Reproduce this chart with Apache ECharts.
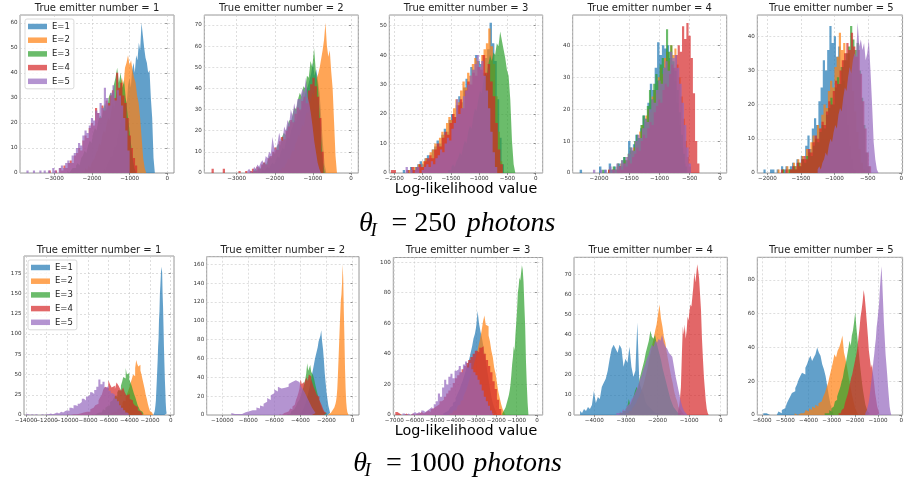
<!DOCTYPE html>
<html>
<head>
<meta charset="utf-8">
<script src="https://cdn.jsdelivr.net/npm/echarts@6/dist/echarts.min.js"></script>
<style>
  html, body { margin: 0; padding: 0; background: #fff; }
  #chart { width: 906px; height: 490px; }
</style>
</head>
<body>
<div id="chart"></div>
<script>
const emitterLabels = ['E=1', 'E=2', 'E=3', 'E=4', 'E=5'];
const emitterColors = ['#1f77b4', '#ff7f0e', '#2ca02c', '#d62728', '#9467bd'];
const panelTitles = [
  'True emitter number = 1', 'True emitter number = 2', 'True emitter number = 3',
  'True emitter number = 4', 'True emitter number = 5',
  'True emitter number = 1', 'True emitter number = 2', 'True emitter number = 3',
  'True emitter number = 4', 'True emitter number = 5'
];

// histogram bin ranges [first edge, last edge] per fitted emitter number, and counts per bin
// theta_I = 250 photons
const range250_1 = [[-1750, -330], [-2250, -560], [-2650, -830], [-3150, -800], [-3740, -1000]];
const counts250_1 = [
  [1,0,2,1,3,4,5,7,6,9,11,10,14,16,19,22,21,27,30,28,35,38,34,41,44,40,47,45,52,49,60,55,50,46,44,40,41,30,22,6],
  [1,0,2,1,3,2,4,5,6,8,9,12,11,15,17,16,20,22,21,25,28,26,31,33,30,36,38,35,42,44,47,43,45,41,38,36,31,28,22,14,6,2],
  [1,0,1,2,2,3,4,3,6,7,9,8,11,13,12,16,18,17,21,23,22,26,28,25,30,32,31,35,38,42,36,40,34,37,30,24,18,12,6,2],
  [1,0,0,1,0,2,1,3,2,4,5,4,7,8,10,9,13,15,14,18,20,19,26,24,22,27,25,29,28,31,33,30,40,34,36,31,28,22,15,10,6,3],
  [1,0,0,1,0,0,1,0,1,0,1,0,2,1,0,2,3,2,4,5,4,7,8,10,12,11,15,17,16,19,22,21,25,24,28,26,34,30,27,32,35,29,33,31,27,22,17,9]
];
const range250_2 = [[-2500, -650], [-1950, -370], [-2650, -690], [-3660, -720], [-2720, -790]];
const counts250_2 = [
  [1,0,1,0,2,1,2,3,2,4,5,4,6,8,7,10,12,11,15,17,16,20,22,25,24,28,30,29,34,36,39,41,44,47,52,46,49,44,38,26,14,4],
  [1,0,2,1,3,2,4,5,7,6,9,11,10,14,15,18,17,21,23,22,27,29,28,33,35,38,36,42,45,47,50,54,58,63,71,60,55,58,48,40,24,8],
  [1,0,1,2,1,3,2,4,5,4,6,8,7,10,9,12,14,13,17,19,18,22,25,24,28,31,30,35,38,36,41,40,46,45,53,50,59,48,42,30,16,5],
  [2,0,0,0,0,2,0,0,0,0,0,0,1,0,0,1,0,1,2,1,3,2,4,5,4,7,8,10,12,11,15,17,16,20,22,25,24,28,31,30,34,36,33,39,42,45,41,36,26,10],
  [1,2,1,0,3,2,4,3,5,6,4,8,7,10,9,17,12,11,14,19,16,15,22,20,25,23,30,27,33,29,35,35,37,40,38,45,36,33,28,22,15,10,5,2]
];
const range250_3 = [[-2350, -560], [-2250, -590], [-1550, -360], [-2560, -580], [-2300, -680]];
const counts250_3 = [
  [1,0,1,2,1,2,3,4,3,5,6,5,8,9,11,10,13,15,14,18,20,19,23,26,24,29,32,30,36,35,40,38,37,34,39,42,51,44,38,25,12,3],
  [1,0,2,1,3,2,4,5,4,7,8,10,9,12,14,13,17,19,18,22,25,24,28,31,29,34,33,37,39,38,36,40,42,44,49,43,37,26,14,4],
  [1,1,2,3,2,4,5,7,6,9,11,10,14,16,15,19,22,21,25,28,27,31,34,33,37,40,38,41,40,44,43,48,45,42,39,35,33,25,11,3],
  [1,1,0,0,0,0,1,0,2,1,2,3,2,4,5,6,5,8,10,9,12,14,13,17,20,19,23,25,22,28,31,30,34,33,36,35,40,34,37,31,26,17,8,3],
  [2,0,1,0,1,2,0,1,2,3,2,4,3,5,6,8,7,10,12,11,15,17,25,20,22,26,28,30,33,35,37,40,36,38,33,28,22,14,7,2]
];
const range250_4 = [[-2320, -560], [-1850, -480], [-1950, -540], [-1850, -340], [-2100, -480]];
const counts250_4 = [
  [1,0,0,0,0,0,0,0,2,0,1,0,3,1,2,1,3,2,5,4,10,7,9,12,11,14,18,16,22,28,26,33,41,37,40,39,40,36,33,29,22,15,8,3],
  [1,0,1,1,2,1,3,2,4,5,4,7,8,10,9,13,15,14,18,20,19,24,26,25,30,33,31,36,38,35,40,37,39,34,30,24,17,10,5,2],
  [1,0,0,1,1,2,1,3,2,4,5,4,6,8,7,10,12,11,15,18,17,21,26,23,28,31,29,34,36,33,45,38,40,35,32,26,19,12,6,2],
  [1,0,1,0,1,2,1,3,2,4,3,5,6,8,7,10,12,11,14,16,15,19,21,23,22,26,28,27,31,34,33,37,40,38,46,42,47,43,36,25,10,3],
  [1,0,0,1,0,1,0,2,1,1,3,2,4,3,5,6,8,7,10,12,11,14,17,16,20,23,22,26,29,28,33,35,32,38,36,37,33,28,22,15,8,3]
];
const range250_5 = [[-2060, -680], [-1850, -540], [-1780, -470], [-1800, -450], [-1250, -340]];
const counts250_5 = [
  [1,0,0,1,1,0,1,0,2,1,2,1,2,3,2,4,3,5,4,8,11,7,13,16,14,21,25,33,30,36,43,38,40,34,37,31,27,20,14,8,4,1],
  [1,0,1,0,2,1,1,3,2,4,3,5,4,7,6,9,11,10,14,13,17,20,19,24,27,25,31,34,41,36,38,33,35,29,24,18,12,7,3,1],
  [1,0,0,1,1,2,1,3,2,4,3,5,6,5,8,10,9,12,14,13,17,19,22,20,25,28,26,31,33,35,37,43,39,36,38,30,22,14,6,2],
  [1,0,1,0,1,2,1,3,2,4,5,4,7,6,9,11,10,13,15,14,18,21,20,24,27,26,30,33,35,38,36,41,37,34,36,29,21,13,6,2],
  [1,2,1,3,4,6,5,8,10,9,12,14,13,17,19,18,22,25,24,28,31,29,33,35,34,44,37,39,36,38,33,35,39,30,20,9,4,1]
];

// theta_I = 1000 photons
const range1000_1 = [[-1650, -350], [-6200, -1700], [-7600, -2500], [-10000, -2700], [-14000, -4000]];
const counts1000_1 = [
  [1,2,4,7,12,18,30,42,55,68,85,95,118,128,150,160,172,183,181,176,150,134,110,85,65,45,31,15,6,2],
  [1,0,1,2,1,3,2,4,5,4,7,8,10,12,11,15,18,17,22,25,28,32,36,41,45,50,48,58,68,63,60,62,55,50,44,38,32,25,20,14,9,5,3,1],
  [1,0,1,2,1,3,4,3,5,7,6,9,11,13,12,16,18,17,21,24,23,28,31,30,36,41,47,45,58,50,52,44,40,36,31,26,22,17,12,9,6,4,2,1],
  [1,0,0,1,0,1,1,2,1,3,2,4,5,4,7,9,8,12,14,18,22,25,32,35,33,43,38,34,36,32,40,37,33,30,34,28,24,26,20,18,15,12,10,6,4,2],
  [1,0,1,0,1,0,0,1,0,1,1,2,1,2,3,2,4,3,5,6,5,9,8,12,11,14,16,20,18,23,25,28,26,31,35,44,38,41,34,36,30,27,25,20,17,12,9,6,3,1]
];
const range1000_2 = [[-4100, -1650], [-1850, -300], [-5000, -1950], [-5600, -2000], [-9300, -2700]];
const counts1000_2 = [
  [1,2,3,5,4,7,9,12,14,18,22,26,30,35,40,45,50,55,60,64,68,72,78,80,84,90,78,70,58,44,34,24,17,10,6,2],
  [1,1,2,2,3,3,4,5,6,7,8,10,12,15,20,28,42,58,75,92,108,122,128,140,160,145,110,82,50,28,14,7,3,1],
  [1,2,1,3,4,3,6,8,7,10,13,12,16,19,22,26,29,34,38,44,55,47,50,53,46,48,42,38,33,28,24,20,16,12,9,6,4,3,2,1],
  [1,0,1,2,1,3,2,4,5,7,6,9,11,13,16,19,23,28,38,33,35,32,37,40,36,43,41,38,34,30,27,24,21,19,16,13,10,7,4,2],
  [2,1,0,1,2,1,2,3,2,4,3,5,6,5,8,7,10,9,12,14,18,16,21,23,27,25,30,28,26,29,31,30,33,35,34,37,38,35,33,30,27,24,20,16,12,8,5,2]
];
const range1000_3 = [[-4600, -1900], [-4300, -1550], [-1700, -420], [-6950, -1750], [-6600, -2100]];
const counts1000_3 = [
  [1,2,2,3,4,5,6,8,9,11,13,15,17,20,22,25,28,31,34,37,41,45,50,53,58,68,60,55,51,46,40,35,29,23,17,12,8,5,3,1],
  [1,1,2,3,3,4,6,7,9,10,12,14,16,19,22,25,28,31,35,38,42,46,50,55,61,65,59,58,52,48,42,38,31,27,21,15,11,7,4,2],
  [1,2,3,4,5,7,9,11,13,16,20,26,33,38,45,42,52,60,68,80,84,90,88,93,98,95,87,72,58,35,20,8],
  [2,1,0,0,1,0,0,1,0,1,1,2,1,2,3,2,4,5,6,7,9,10,12,14,16,18,21,24,26,28,30,32,34,36,38,40,42,41,44,45,40,36,32,28,22,17,10,4],
  [1,0,1,0,1,2,1,2,1,3,2,3,4,5,4,7,9,14,12,18,23,20,25,27,24,29,30,32,28,33,35,31,34,30,28,26,23,20,16,12,9,6,3,1]
];
const range1000_4 = [[-4450, -1950], [-3000, -1150], [-3200, -1250], [-1350, -380], [-3300, -1050]];
const counts1000_4 = [
  [2,1,3,2,4,3,5,12,6,9,8,14,16,18,22,28,33,35,33,31,35,33,24,28,26,34,24,19,22,46,16,13,11,7,5,4,3,2,1,1],
  [1,1,2,2,3,4,5,6,8,9,11,13,15,18,21,24,28,31,35,38,42,45,50,55,48,44,39,36,31,27,23,19,16,12,9,7,4,3,2,1],
  [1,1,2,2,3,4,8,5,7,9,12,14,13,18,21,24,27,31,34,37,42,39,38,40,36,33,30,27,23,20,17,14,11,8,6,4,3,2,1,1],
  [2,4,8,14,30,44,40,45,38,42,49,47,52,55,54,59,64,71,66,70,75,72,68,60,52,38,28,19,13,7,3,1],
  [1,1,2,1,3,2,4,5,6,8,9,11,13,15,18,20,23,25,28,30,33,35,34,37,36,38,37,40,36,34,33,31,30,29,24,19,15,11,7,4,2,1]
];
const range1000_5 = [[-5950, -2900], [-4600, -1850], [-3300, -1350], [-2700, -900], [-1550, -430]];
const counts1000_5 = [
  [1,1,0,0,1,0,1,0,1,2,1,3,4,5,7,9,11,13,14,16,18,21,23,25,24,28,30,33,35,32,34,36,40,37,35,30,27,23,17,11,6,2],
  [1,0,1,1,2,1,2,3,2,4,3,5,4,6,5,7,8,9,11,13,16,19,23,27,31,36,34,38,40,43,47,37,33,28,22,17,12,8,4,2],
  [1,1,2,1,3,2,4,5,6,8,9,11,13,15,17,20,22,26,29,32,36,40,44,41,47,50,55,61,52,45,38,31,25,19,14,10,6,4,2,1],
  [1,1,2,3,4,5,7,9,11,13,16,19,22,24,27,30,33,36,40,46,51,58,62,67,74,70,63,55,47,38,33,28,30,24,19,13,9,5,3,1],
  [1,2,3,5,7,10,14,18,22,27,32,36,41,45,52,56,61,66,75,82,88,78,66,54,45,36,30,24,17,11,5,2]
];

const panelRanges = [range250_1, range250_2, range250_3, range250_4, range250_5,
  range1000_1, range1000_2, range1000_3, range1000_4, range1000_5];
const panelCounts = [counts250_1, counts250_2, counts250_3, counts250_4, counts250_5,
  counts1000_1, counts1000_2, counts1000_3, counts1000_4, counts1000_5];

// axes boxes in pixels and axis limits
const panelLayout = [
  { left: 20, top: 15, width: 154, height: 158, xMin: -3911, xMax: 178, yMax: 63.1, xStep: 1000, yStep: 10 },
  { left: 204.3, top: 15, width: 154, height: 158, xMin: -3850, xMax: 190, yMax: 74.7, xStep: 1000, yStep: 10 },
  { left: 389.3, top: 15, width: 153.4, height: 158, xMin: -2588, xMax: 124, yMax: 53.6, xStep: 500, yStep: 10 },
  { left: 572.7, top: 15, width: 154, height: 158, xMin: -2435, xMax: 111, yMax: 49.5, xStep: 500, yStep: 10 },
  { left: 757.3, top: 15, width: 148, height: 158, xMin: -2152, xMax: 20, yMax: 46.2, xStep: 500, yStep: 10 },
  { left: 24, top: 256, width: 150, height: 159, xMin: -14194, xMax: 320, yMax: 196.4, xStep: 2000, yStep: 25 },
  { left: 206.7, top: 256.7, width: 152.3, height: 158.3, xMin: -11191, xMax: 500, yMax: 168, xStep: 2000, yStep: 20 },
  { left: 393.3, top: 257.5, width: 149.4, height: 157.5, xMin: -7049, xMax: 280, yMax: 103, xStep: 1000, yStep: 20 },
  { left: 574, top: 257.3, width: 153.3, height: 157.7, xMin: -4642, xMax: 209, yMax: 78.5, xStep: 1000, yStep: 10 },
  { left: 757.3, top: 257.3, width: 148, height: 157.7, xMin: -6208, xMax: 60, yMax: 93.3, xStep: 1000, yStep: 20 }
];

const tickFont = { fontSize: 5.6, color: '#333', fontFamily: 'DejaVu Sans' };
const minusFmt = v => (v < 0 ? '\u2212' + (-v) : String(v));

// step outline of a histogram: bin left edges with their counts, closed by the last right edge
function stepPoints(range, counts) {
  const w = (range[1] - range[0]) / counts.length;
  const pts = counts.map((c, i) => [range[0] + i * w, c]);
  pts.push([range[1], counts[counts.length - 1]]);
  return pts;
}

const grids = [], xAxes = [], yAxes = [], titles = [], series = [];
panelLayout.forEach((p, k) => {
  grids.push({ left: p.left, top: p.top, width: p.width, height: p.height,
    show: true, borderColor: '#7f7f7f', borderWidth: 0.8, containLabel: false });
  xAxes.push({
    type: 'value', gridIndex: k, min: p.xMin, max: p.xMax,
    minInterval: p.xStep, maxInterval: p.xStep, splitNumber: 6,
    axisLine: { show: false },
    axisTick: { show: true, length: 2, lineStyle: { color: '#555', width: 0.6 } },
    axisLabel: Object.assign({ margin: 2.5, formatter: minusFmt, showMinLabel: false, showMaxLabel: false }, tickFont),
    splitLine: { show: true, lineStyle: { color: '#c8c8c8', type: [2, 2], width: 0.6 } }
  });
  yAxes.push({
    type: 'value', gridIndex: k, min: 0, max: p.yMax,
    minInterval: p.yStep, maxInterval: p.yStep, splitNumber: 6,
    axisLine: { show: false },
    axisTick: { show: true, length: 2, lineStyle: { color: '#555', width: 0.6 } },
    axisLabel: Object.assign({ margin: 2.5, showMaxLabel: false }, tickFont),
    splitLine: { show: true, lineStyle: { color: '#c8c8c8', type: [2, 2], width: 0.6 } }
  });
  titles.push({
    text: panelTitles[k], left: p.left + p.width / 2, top: k < 5 ? 3.5 : 245.5,
    textAlign: 'center', padding: 0,
    textStyle: { fontSize: 10, fontWeight: 'normal', fontFamily: 'DejaVu Sans', color: '#222' }
  });
  emitterLabels.forEach((name, e) => {
    series.push({
      type: 'line', name: name, xAxisIndex: k, yAxisIndex: k,
      step: 'end', symbol: 'none', showSymbol: false, silent: true,
      lineStyle: { width: 0 },
      areaStyle: { color: emitterColors[e], opacity: 0.7 },
      itemStyle: { color: emitterColors[e], opacity: 0.7 },
      data: stepPoints(panelRanges[k][e], panelCounts[k][e])
    });
  });
});

const legendStyle = {
  orient: 'vertical', data: emitterLabels, icon: 'rect',
  itemWidth: 19, itemHeight: 5.5, itemGap: 4.7, itemTextGap: 6,
  padding: [3, 4, 3, 3],
  backgroundColor: 'rgba(255,255,255,0.8)', borderColor: '#d0d0d0', borderWidth: 0.8, borderRadius: 2,
  itemStyle: { opacity: 0.7 },
  textStyle: { fontSize: 8.5, color: '#222', fontFamily: 'DejaVu Sans' }
};

function label(text, x, y, font, align) {
  return { type: 'text', x: x, y: y, silent: true,
    style: { text: text, font: font, fill: '#000', align: align, textAlign: align,
      verticalAlign: 'middle', textVerticalAlign: 'middle' } };
}

const chart = echarts.init(document.getElementById('chart'), null, { renderer: 'canvas' });
chart.setOption({
  animation: false,
  backgroundColor: '#fff',
  title: titles,
  legend: [
    Object.assign({ left: 25, top: 19 }, legendStyle),
    Object.assign({ left: 28, top: 260 }, legendStyle)
  ],
  grid: grids,
  xAxis: xAxes,
  yAxis: yAxes,
  series: series,
  graphic: [
    label('Log-likelihood value', 466, 189.5, '14.3px "DejaVu Sans"', 'center'),
    label('Log-likelihood value', 466, 431.5, '14.3px "DejaVu Sans"', 'center'),
    label('\u03b8', 359, 224, 'italic 28px "Liberation Serif"', 'left'),
    label('I', 370.5, 231, 'italic 19px "Liberation Serif"', 'left'),
    label('= 250', 391.5, 224, '28px "Liberation Serif"', 'left'),
    label('photons', 466.7, 224, 'italic 28px "Liberation Serif"', 'left'),
    label('\u03b8', 353.3, 464, 'italic 28px "Liberation Serif"', 'left'),
    label('I', 364.5, 471, 'italic 19px "Liberation Serif"', 'left'),
    label('= 1000', 386, 464, '28px "Liberation Serif"', 'left'),
    label('photons', 473.3, 464, 'italic 28px "Liberation Serif"', 'left')
  ]
});
</script>
</body>
</html>
